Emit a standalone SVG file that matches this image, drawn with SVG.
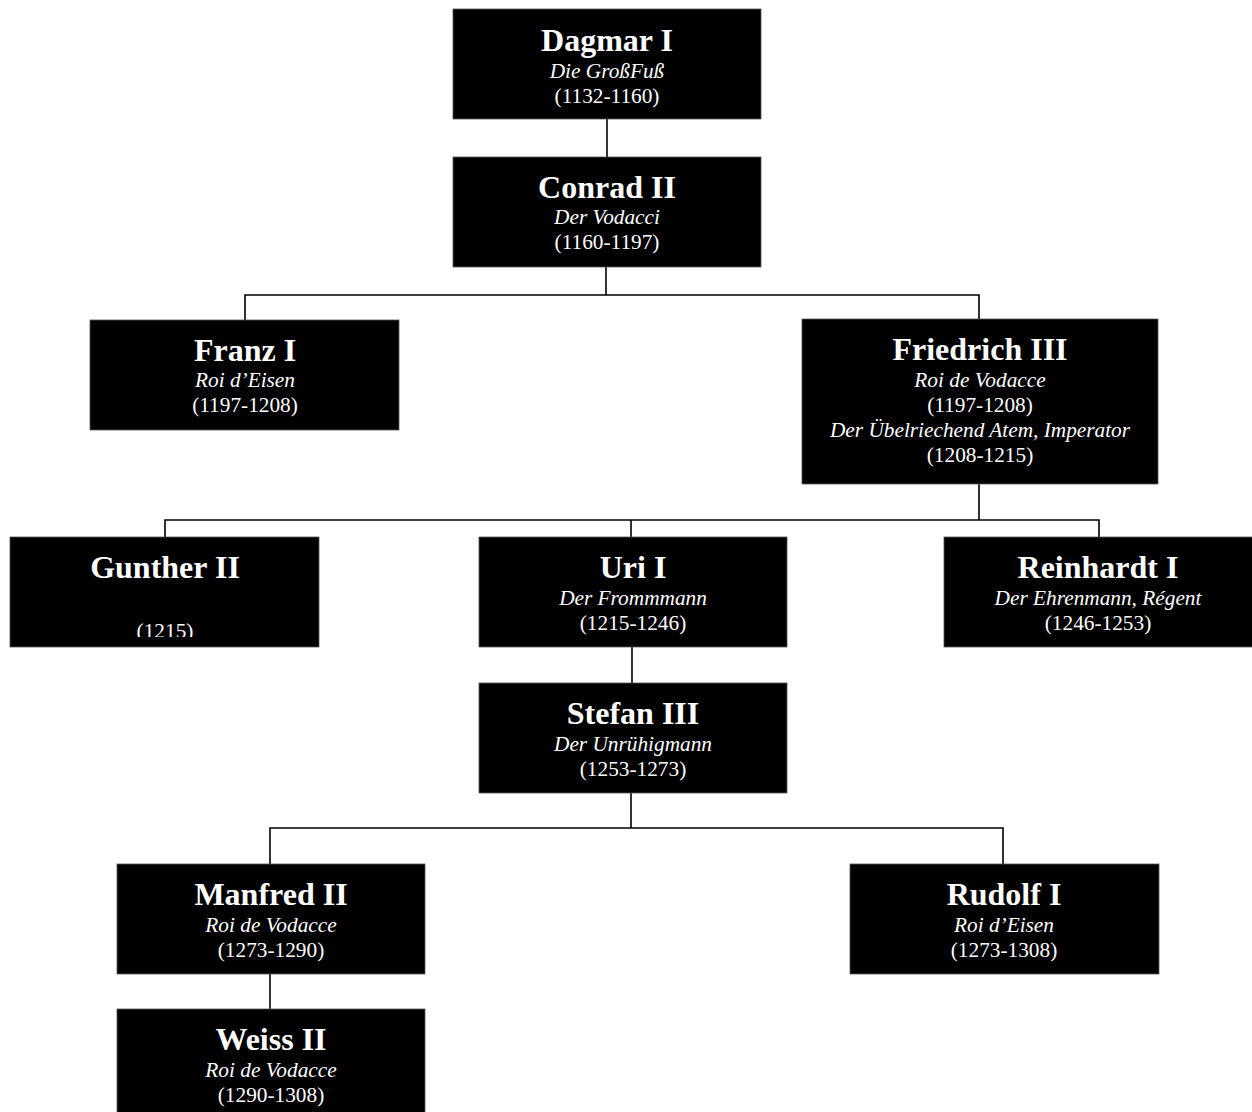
<svg xmlns="http://www.w3.org/2000/svg" width="1252" height="1112" viewBox="0 0 1252 1112">
<defs>
<style>
.box{fill:#000;stroke:#555;stroke-width:0.8}
.t{font-family:"Liberation Serif","Times New Roman",serif;fill:#fff;text-anchor:middle}
.n{font-size:32px;font-weight:bold}
.s{font-size:21.3px;font-style:italic}
.d{font-size:21.3px}
.c{fill:none;stroke:#000;stroke-width:1.6}
</style>
<clipPath id="gclip"><rect x="10" y="537" width="309" height="100"/></clipPath>
</defs>
<rect width="1252" height="1112" fill="#fff"/>
<g id="connectors">
<path class="c" d="M607 119V157"/>
<path class="c" d="M606 267V295M245 320V295H979V319"/>
<path class="c" d="M979 484V520M165 537V520H1099V537M631 520V537"/>
<path class="c" d="M632 647V683"/>
<path class="c" d="M631 793V828M270 864V828H1003V864"/>
<path class="c" d="M270 974V1009"/>
</g>
<g id="dagmar">
<rect class="box" x="453" y="9" width="308" height="110"/>
<text class="t n" x="607" y="51">Dagmar I</text>
<text class="t s" x="607" y="78">Die GroßFuß</text>
<text class="t d" x="607" y="103">(1132-1160)</text>
</g>
<g id="conrad">
<rect class="box" x="453" y="157" width="308" height="110"/>
<text class="t n" x="607" y="198">Conrad II</text>
<text class="t s" x="607" y="224">Der Vodacci</text>
<text class="t d" x="607" y="249">(1160-1197)</text>
</g>
<g id="franz">
<rect class="box" x="90" y="320" width="309" height="110"/>
<text class="t n" x="245" y="361">Franz I</text>
<text class="t s" x="245" y="387">Roi d’Eisen</text>
<text class="t d" x="245" y="412">(1197-1208)</text>
</g>
<g id="friedrich">
<rect class="box" x="802" y="319" width="356" height="165"/>
<text class="t n" x="980" y="360">Friedrich III</text>
<text class="t s" x="980" y="387">Roi de Vodacce</text>
<text class="t d" x="980" y="412">(1197-1208)</text>
<text class="t s" x="980" y="437">Der Übelriechend Atem, Imperator</text>
<text class="t d" x="980" y="462">(1208-1215)</text>
</g>
<g id="gunther">
<rect class="box" x="10" y="537" width="309" height="110"/>
<text class="t n" x="165" y="578">Gunther II</text>
<text class="t d" x="165" y="638" clip-path="url(#gclip)">(1215)</text>
</g>
<g id="uri">
<rect class="box" x="479" y="537" width="308" height="110"/>
<text class="t n" x="633" y="578">Uri I</text>
<text class="t s" x="633" y="605">Der Frommmann</text>
<text class="t d" x="633" y="630">(1215-1246)</text>
</g>
<g id="reinhardt">
<rect class="box" x="944" y="537" width="310" height="110"/>
<text class="t n" x="1098" y="578">Reinhardt I</text>
<text class="t s" x="1098" y="605">Der Ehrenmann, Régent</text>
<text class="t d" x="1098" y="630">(1246-1253)</text>
</g>
<g id="stefan">
<rect class="box" x="479" y="683" width="308" height="110"/>
<text class="t n" x="633" y="724">Stefan III</text>
<text class="t s" x="633" y="751">Der Unrühigmann</text>
<text class="t d" x="633" y="776">(1253-1273)</text>
</g>
<g id="manfred">
<rect class="box" x="117" y="864" width="308" height="110"/>
<text class="t n" x="271" y="905">Manfred II</text>
<text class="t s" x="271" y="932">Roi de Vodacce</text>
<text class="t d" x="271" y="957">(1273-1290)</text>
</g>
<g id="rudolf">
<rect class="box" x="850" y="864" width="309" height="110"/>
<text class="t n" x="1004" y="905">Rudolf I</text>
<text class="t s" x="1004" y="932">Roi d’Eisen</text>
<text class="t d" x="1004" y="957">(1273-1308)</text>
</g>
<g id="weiss">
<rect class="box" x="117" y="1009" width="308" height="110"/>
<text class="t n" x="271" y="1050">Weiss II</text>
<text class="t s" x="271" y="1077">Roi de Vodacce</text>
<text class="t d" x="271" y="1102">(1290-1308)</text>
</g>
</svg>
